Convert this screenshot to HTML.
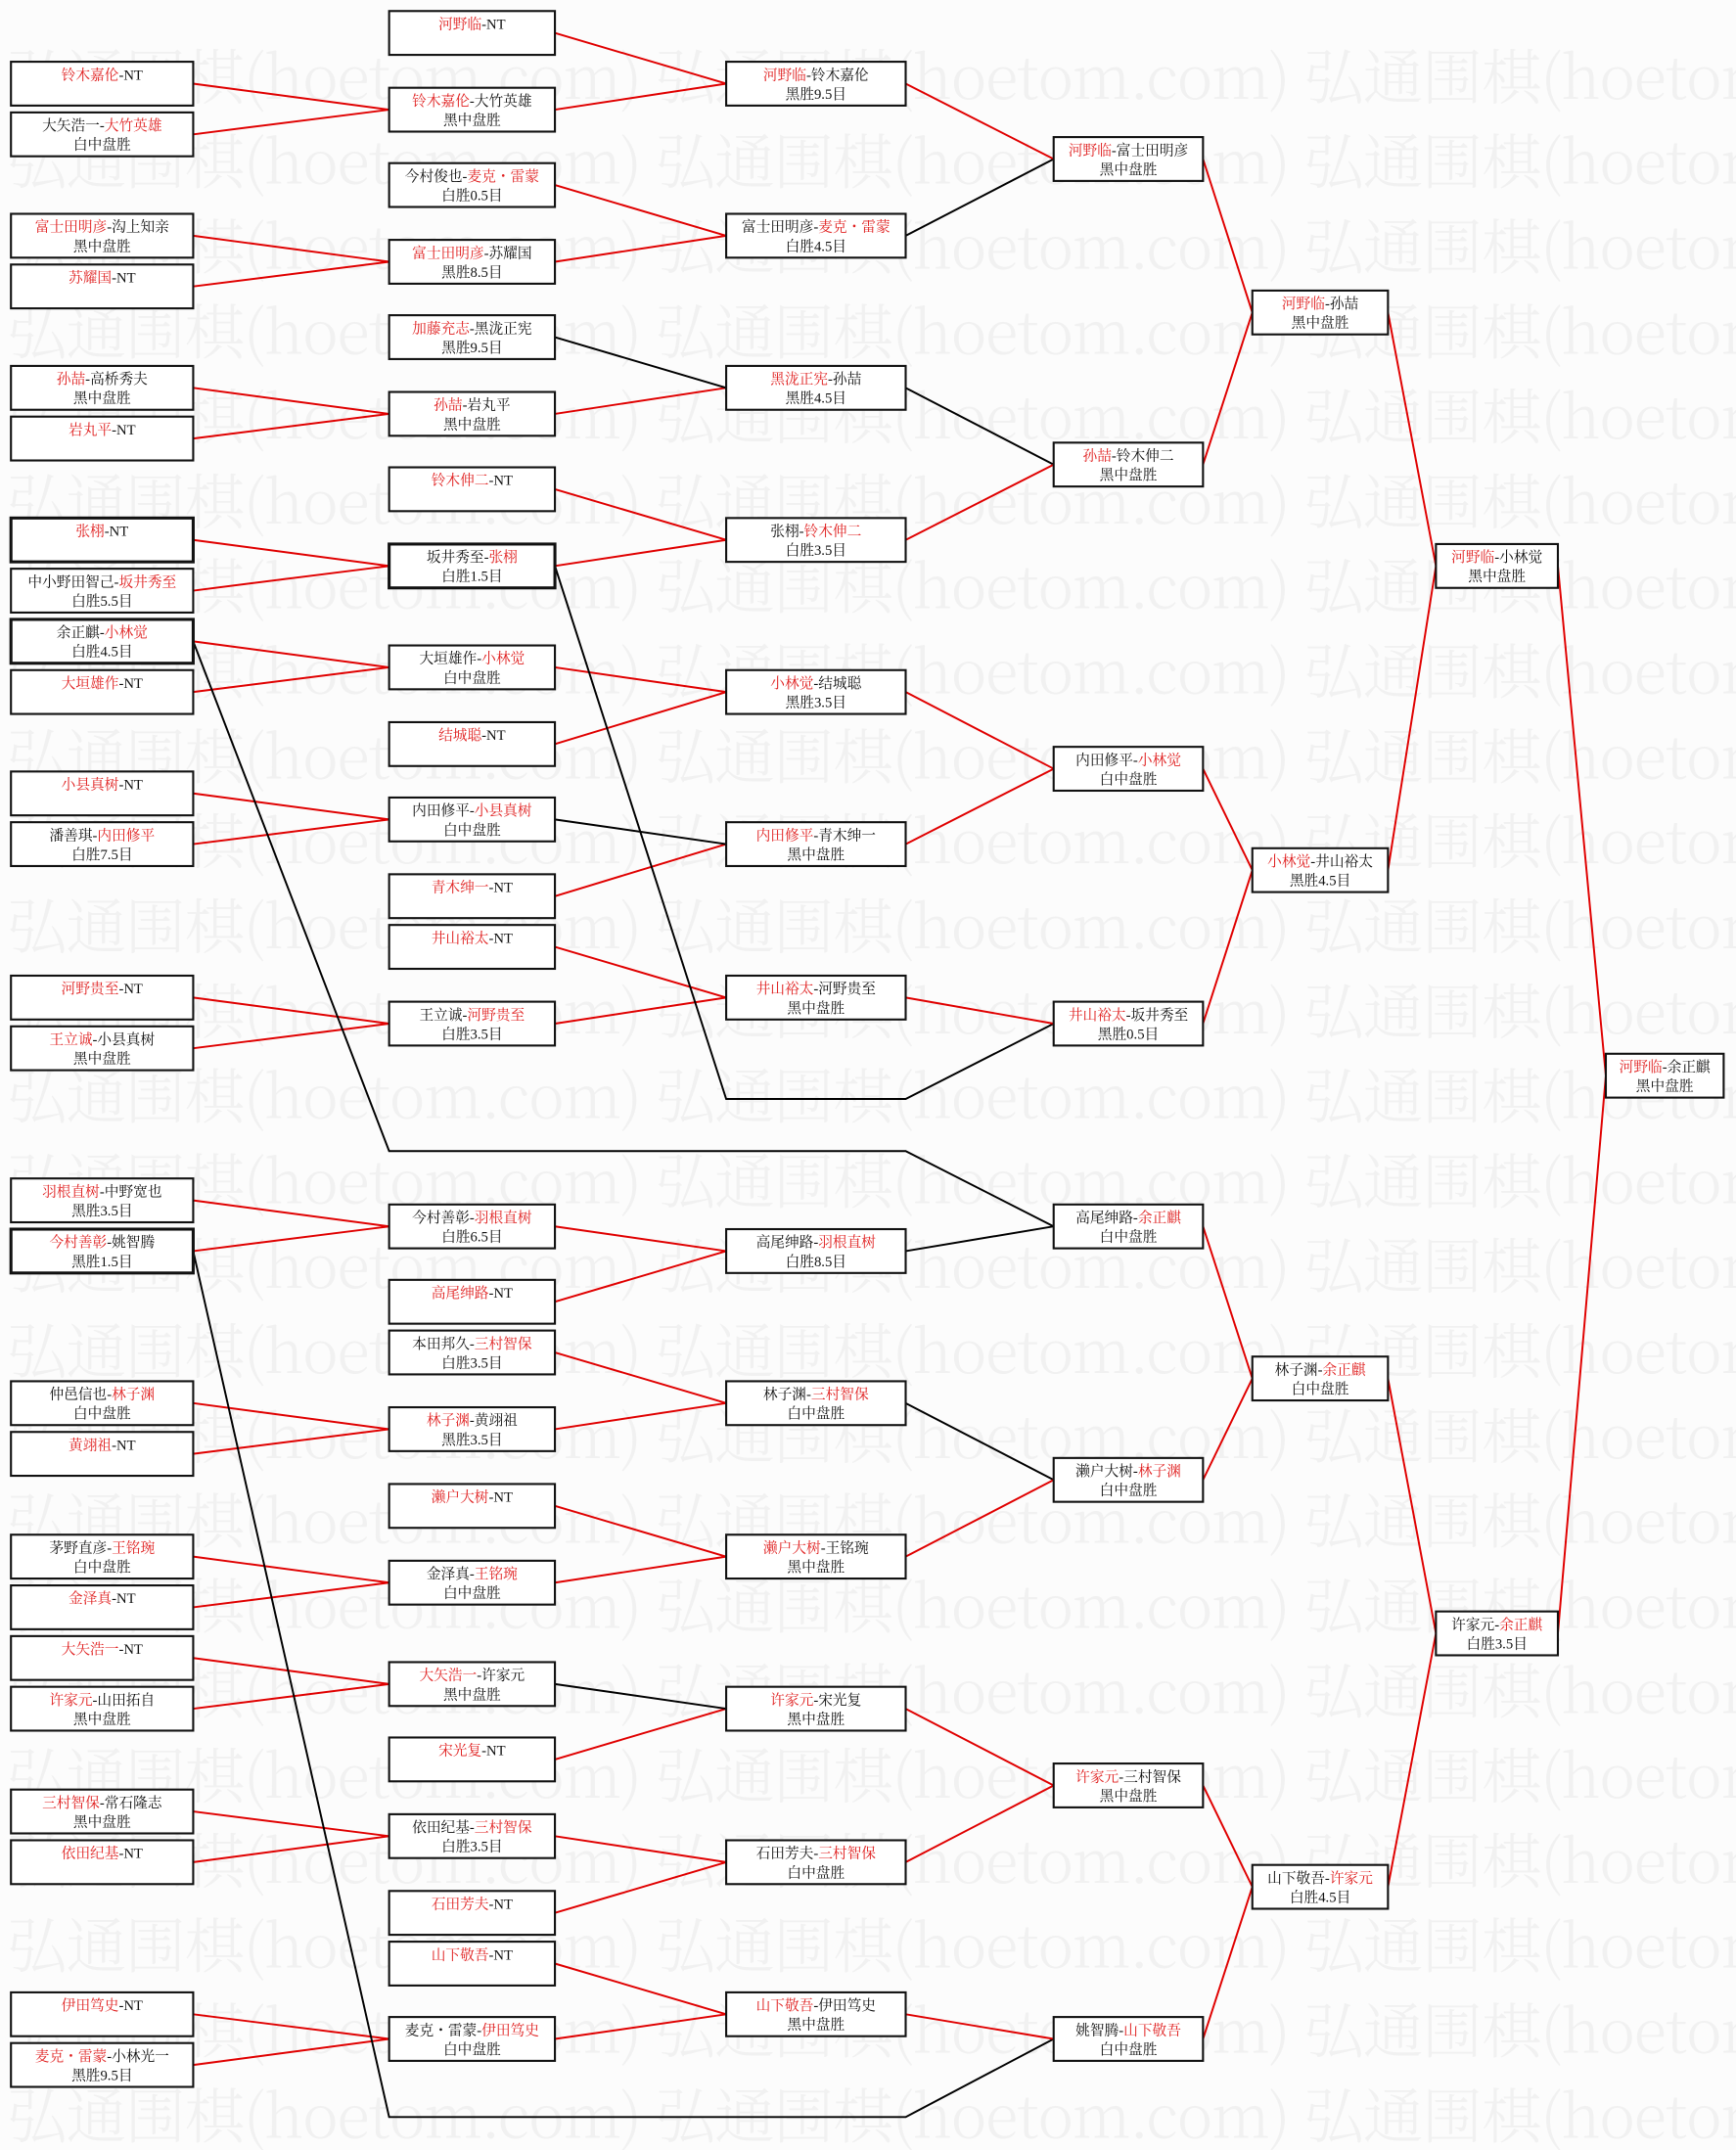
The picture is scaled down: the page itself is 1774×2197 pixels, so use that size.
<!DOCTYPE html>
<html><head><meta charset="utf-8">
<style>
html,body{margin:0;padding:0;background:#fcfcfc;}
svg{display:block;}
.b{fill:#fff;stroke:#111;stroke-width:1.5;}
.t{font-family:"Liberation Serif","Noto Serif CJK SC",serif;font-size:10.5px;fill:#111;text-anchor:middle;}
.r{fill:#e02020;}
.wm{font-family:"Noto Serif CJK SC","Liberation Serif",serif;font-size:44px;fill:#f1f1f1;font-weight:300;}
.lr{stroke:#e00000;stroke-width:1.4;fill:none;}
.lb{stroke:#000;stroke-width:1.4;fill:none;}
</style></head><body>
<svg width="1774" height="2197" viewBox="0 0 1267 1569" xmlns="http://www.w3.org/2000/svg">
<rect x="0" y="0" width="1267" height="1569" fill="#fcfcfc"/>
<g class="wm">
<text x="5" y="72" textLength="1410" lengthAdjust="spacing">弘通围棋(hoetom.com) 弘通围棋(hoetom.com) 弘通围棋(hoetom.com)</text>
<text x="5" y="134" textLength="1410" lengthAdjust="spacing">弘通围棋(hoetom.com) 弘通围棋(hoetom.com) 弘通围棋(hoetom.com)</text>
<text x="5" y="196" textLength="1410" lengthAdjust="spacing">弘通围棋(hoetom.com) 弘通围棋(hoetom.com) 弘通围棋(hoetom.com)</text>
<text x="5" y="258" textLength="1410" lengthAdjust="spacing">弘通围棋(hoetom.com) 弘通围棋(hoetom.com) 弘通围棋(hoetom.com)</text>
<text x="5" y="320" textLength="1410" lengthAdjust="spacing">弘通围棋(hoetom.com) 弘通围棋(hoetom.com) 弘通围棋(hoetom.com)</text>
<text x="5" y="382" textLength="1410" lengthAdjust="spacing">弘通围棋(hoetom.com) 弘通围棋(hoetom.com) 弘通围棋(hoetom.com)</text>
<text x="5" y="444" textLength="1410" lengthAdjust="spacing">弘通围棋(hoetom.com) 弘通围棋(hoetom.com) 弘通围棋(hoetom.com)</text>
<text x="5" y="506" textLength="1410" lengthAdjust="spacing">弘通围棋(hoetom.com) 弘通围棋(hoetom.com) 弘通围棋(hoetom.com)</text>
<text x="5" y="568" textLength="1410" lengthAdjust="spacing">弘通围棋(hoetom.com) 弘通围棋(hoetom.com) 弘通围棋(hoetom.com)</text>
<text x="5" y="630" textLength="1410" lengthAdjust="spacing">弘通围棋(hoetom.com) 弘通围棋(hoetom.com) 弘通围棋(hoetom.com)</text>
<text x="5" y="692" textLength="1410" lengthAdjust="spacing">弘通围棋(hoetom.com) 弘通围棋(hoetom.com) 弘通围棋(hoetom.com)</text>
<text x="5" y="754" textLength="1410" lengthAdjust="spacing">弘通围棋(hoetom.com) 弘通围棋(hoetom.com) 弘通围棋(hoetom.com)</text>
<text x="5" y="816" textLength="1410" lengthAdjust="spacing">弘通围棋(hoetom.com) 弘通围棋(hoetom.com) 弘通围棋(hoetom.com)</text>
<text x="5" y="878" textLength="1410" lengthAdjust="spacing">弘通围棋(hoetom.com) 弘通围棋(hoetom.com) 弘通围棋(hoetom.com)</text>
<text x="5" y="940" textLength="1410" lengthAdjust="spacing">弘通围棋(hoetom.com) 弘通围棋(hoetom.com) 弘通围棋(hoetom.com)</text>
<text x="5" y="1002" textLength="1410" lengthAdjust="spacing">弘通围棋(hoetom.com) 弘通围棋(hoetom.com) 弘通围棋(hoetom.com)</text>
<text x="5" y="1064" textLength="1410" lengthAdjust="spacing">弘通围棋(hoetom.com) 弘通围棋(hoetom.com) 弘通围棋(hoetom.com)</text>
<text x="5" y="1126" textLength="1410" lengthAdjust="spacing">弘通围棋(hoetom.com) 弘通围棋(hoetom.com) 弘通围棋(hoetom.com)</text>
<text x="5" y="1188" textLength="1410" lengthAdjust="spacing">弘通围棋(hoetom.com) 弘通围棋(hoetom.com) 弘通围棋(hoetom.com)</text>
<text x="5" y="1250" textLength="1410" lengthAdjust="spacing">弘通围棋(hoetom.com) 弘通围棋(hoetom.com) 弘通围棋(hoetom.com)</text>
<text x="5" y="1312" textLength="1410" lengthAdjust="spacing">弘通围棋(hoetom.com) 弘通围棋(hoetom.com) 弘通围棋(hoetom.com)</text>
<text x="5" y="1374" textLength="1410" lengthAdjust="spacing">弘通围棋(hoetom.com) 弘通围棋(hoetom.com) 弘通围棋(hoetom.com)</text>
<text x="5" y="1436" textLength="1410" lengthAdjust="spacing">弘通围棋(hoetom.com) 弘通围棋(hoetom.com) 弘通围棋(hoetom.com)</text>
<text x="5" y="1498" textLength="1410" lengthAdjust="spacing">弘通围棋(hoetom.com) 弘通围棋(hoetom.com) 弘通围棋(hoetom.com)</text>
<text x="5" y="1560" textLength="1410" lengthAdjust="spacing">弘通围棋(hoetom.com) 弘通围棋(hoetom.com) 弘通围棋(hoetom.com)</text>
</g>

<g class="lr">
<path d="M141 61L284 80M141 98L284 80"/>
<path d="M141 172L284 191M141 209L284 191"/>
<path d="M141 283L284 302M141 320L284 302"/>
<path d="M141 394L284 413M141 431L284 413"/>
<path d="M141 468L284 487M141 505L284 487"/>
<path d="M141 579L284 598M141 616L284 598"/>
<path d="M141 728L284 747M141 765L284 747"/>
<path d="M141 876L284 895M141 913L284 895"/>
<path d="M141 1024L284 1043M141 1061L284 1043"/>
<path d="M141 1136L284 1155M141 1173L284 1155"/>
<path d="M141 1210L284 1229M141 1247L284 1229"/>
<path d="M141 1322L284 1340M141 1359L284 1340"/>
<path d="M141 1470L284 1488M141 1507L284 1488"/>
</g>
<g class="lr">
<path d="M405 24L530 61M405 80L530 61"/>
<path d="M405 135L530 172M405 191L530 172"/>
<path d="M405 302L530 283"/>
<path d="M405 357L530 394M405 413L530 394"/>
<path d="M405 487L530 505M405 543L530 505"/>
<path d="M405 654L530 616"/>
<path d="M405 691L530 728M405 747L530 728"/>
<path d="M405 895L530 913M405 950L530 913"/>
<path d="M405 987L530 1024M405 1043L530 1024"/>
<path d="M405 1099L530 1136M405 1155L530 1136"/>
<path d="M405 1284L530 1247"/>
<path d="M405 1340L530 1359M405 1396L530 1359"/>
<path d="M405 1433L530 1470M405 1488L530 1470"/>
</g>
<g class="lb">
<path d="M405 246L530 283"/>
<path d="M405 598L530 616"/>
<path d="M405 1229L530 1247"/>
<path d="M405 413L530 802L661 802L769 747"/>
<path d="M141 468L284 840L661 840L769 895"/>
<path d="M141 913L284 1545L661 1545L769 1488"/>
<path d="M661 172L769 116"/>
<path d="M661 283L769 339"/>
<path d="M661 913L769 895"/>
<path d="M661 1024L769 1080"/>
</g>
<g class="lr">
<path d="M661 61L769 116"/>
<path d="M661 394L769 339"/>
<path d="M661 505L769 561M661 616L769 561"/>
<path d="M661 728L769 747"/>
<path d="M661 1136L769 1080"/>
<path d="M661 1247L769 1303M661 1359L769 1303"/>
<path d="M661 1470L769 1488"/>
<path d="M878 116L914 228M878 339L914 228"/>
<path d="M878 561L914 635M878 747L914 635"/>
<path d="M878 895L914 1006M878 1080L914 1006"/>
<path d="M878 1303L914 1377M878 1488L914 1377"/>
<path d="M1013 228L1048 413M1013 635L1048 413"/>
<path d="M1013 1006L1048 1192M1013 1377L1048 1192"/>
<path d="M1137 413L1172 785M1137 1192L1172 785"/>
</g>

<g>
<rect class="b" x="8" y="45" width="133" height="32"/><text class="t" x="74.5" y="58"><tspan class="r">铃木嘉伦</tspan>-NT</text>
<rect class="b" x="8" y="82" width="133" height="32"/><text class="t" x="74.5" y="95">大矢浩一-<tspan class="r">大竹英雄</tspan></text><text class="t" x="74.5" y="109">白中盘胜</text>
<rect class="b" x="8" y="156" width="133" height="32"/><text class="t" x="74.5" y="169"><tspan class="r">富士田明彦</tspan>-沟上知亲</text><text class="t" x="74.5" y="183">黑中盘胜</text>
<rect class="b" x="8" y="193" width="133" height="32"/><text class="t" x="74.5" y="206"><tspan class="r">苏耀国</tspan>-NT</text>
<rect class="b" x="8" y="267" width="133" height="32"/><text class="t" x="74.5" y="280"><tspan class="r">孙喆</tspan>-高桥秀夫</text><text class="t" x="74.5" y="294">黑中盘胜</text>
<rect class="b" x="8" y="304" width="133" height="32"/><text class="t" x="74.5" y="317"><tspan class="r">岩丸平</tspan>-NT</text>
<rect class="b" x="8" y="378" width="133" height="32" style="stroke-width:2.2"/><text class="t" x="74.5" y="391"><tspan class="r">张栩</tspan>-NT</text>
<rect class="b" x="8" y="415" width="133" height="32"/><text class="t" x="74.5" y="428">中小野田智己-<tspan class="r">坂井秀至</tspan></text><text class="t" x="74.5" y="442">白胜5.5目</text>
<rect class="b" x="8" y="452" width="133" height="32" style="stroke-width:2.2"/><text class="t" x="74.5" y="465">余正麒-<tspan class="r">小林觉</tspan></text><text class="t" x="74.5" y="479">白胜4.5目</text>
<rect class="b" x="8" y="489" width="133" height="32"/><text class="t" x="74.5" y="502"><tspan class="r">大垣雄作</tspan>-NT</text>
<rect class="b" x="8" y="563" width="133" height="32"/><text class="t" x="74.5" y="576"><tspan class="r">小县真树</tspan>-NT</text>
<rect class="b" x="8" y="600" width="133" height="32"/><text class="t" x="74.5" y="613">潘善琪-<tspan class="r">内田修平</tspan></text><text class="t" x="74.5" y="627">白胜7.5目</text>
<rect class="b" x="8" y="712" width="133" height="32"/><text class="t" x="74.5" y="725"><tspan class="r">河野贵至</tspan>-NT</text>
<rect class="b" x="8" y="749" width="133" height="32"/><text class="t" x="74.5" y="762"><tspan class="r">王立诚</tspan>-小县真树</text><text class="t" x="74.5" y="776">黑中盘胜</text>
<rect class="b" x="8" y="860" width="133" height="32"/><text class="t" x="74.5" y="873"><tspan class="r">羽根直树</tspan>-中野宽也</text><text class="t" x="74.5" y="887">黑胜3.5目</text>
<rect class="b" x="8" y="897" width="133" height="32" style="stroke-width:2.2"/><text class="t" x="74.5" y="910"><tspan class="r">今村善彰</tspan>-姚智腾</text><text class="t" x="74.5" y="924">黑胜1.5目</text>
<rect class="b" x="8" y="1008" width="133" height="32"/><text class="t" x="74.5" y="1021">仲邑信也-<tspan class="r">林子渊</tspan></text><text class="t" x="74.5" y="1035">白中盘胜</text>
<rect class="b" x="8" y="1045" width="133" height="32"/><text class="t" x="74.5" y="1058"><tspan class="r">黄翊祖</tspan>-NT</text>
<rect class="b" x="8" y="1120" width="133" height="32"/><text class="t" x="74.5" y="1133">茅野直彦-<tspan class="r">王铭琬</tspan></text><text class="t" x="74.5" y="1147">白中盘胜</text>
<rect class="b" x="8" y="1157" width="133" height="32"/><text class="t" x="74.5" y="1170"><tspan class="r">金泽真</tspan>-NT</text>
<rect class="b" x="8" y="1194" width="133" height="32"/><text class="t" x="74.5" y="1207"><tspan class="r">大矢浩一</tspan>-NT</text>
<rect class="b" x="8" y="1231" width="133" height="32"/><text class="t" x="74.5" y="1244"><tspan class="r">许家元</tspan>-山田拓自</text><text class="t" x="74.5" y="1258">黑中盘胜</text>
<rect class="b" x="8" y="1306" width="133" height="32"/><text class="t" x="74.5" y="1319"><tspan class="r">三村智保</tspan>-常石隆志</text><text class="t" x="74.5" y="1333">黑中盘胜</text>
<rect class="b" x="8" y="1343" width="133" height="32"/><text class="t" x="74.5" y="1356"><tspan class="r">依田纪基</tspan>-NT</text>
<rect class="b" x="8" y="1454" width="133" height="32"/><text class="t" x="74.5" y="1467"><tspan class="r">伊田笃史</tspan>-NT</text>
<rect class="b" x="8" y="1491" width="133" height="32"/><text class="t" x="74.5" y="1504"><tspan class="r">麦克・雷蒙</tspan>-小林光一</text><text class="t" x="74.5" y="1518">黑胜9.5目</text>
</g>

<g>
<rect class="b" x="284" y="8" width="121" height="32"/><text class="t" x="344.5" y="21"><tspan class="r">河野临</tspan>-NT</text>
<rect class="b" x="284" y="64" width="121" height="32"/><text class="t" x="344.5" y="77"><tspan class="r">铃木嘉伦</tspan>-大竹英雄</text><text class="t" x="344.5" y="91">黑中盘胜</text>
<rect class="b" x="284" y="119" width="121" height="32"/><text class="t" x="344.5" y="132">今村俊也-<tspan class="r">麦克・雷蒙</tspan></text><text class="t" x="344.5" y="146">白胜0.5目</text>
<rect class="b" x="284" y="175" width="121" height="32"/><text class="t" x="344.5" y="188"><tspan class="r">富士田明彦</tspan>-苏耀国</text><text class="t" x="344.5" y="202">黑胜8.5目</text>
<rect class="b" x="284" y="230" width="121" height="32"/><text class="t" x="344.5" y="243"><tspan class="r">加藤充志</tspan>-黑泷正宪</text><text class="t" x="344.5" y="257">黑胜9.5目</text>
<rect class="b" x="284" y="286" width="121" height="32"/><text class="t" x="344.5" y="299"><tspan class="r">孙喆</tspan>-岩丸平</text><text class="t" x="344.5" y="313">黑中盘胜</text>
<rect class="b" x="284" y="341" width="121" height="32"/><text class="t" x="344.5" y="354"><tspan class="r">铃木伸二</tspan>-NT</text>
<rect class="b" x="284" y="397" width="121" height="32" style="stroke-width:2.2"/><text class="t" x="344.5" y="410">坂井秀至-<tspan class="r">张栩</tspan></text><text class="t" x="344.5" y="424">白胜1.5目</text>
<rect class="b" x="284" y="471" width="121" height="32"/><text class="t" x="344.5" y="484">大垣雄作-<tspan class="r">小林觉</tspan></text><text class="t" x="344.5" y="498">白中盘胜</text>
<rect class="b" x="284" y="527" width="121" height="32"/><text class="t" x="344.5" y="540"><tspan class="r">结城聪</tspan>-NT</text>
<rect class="b" x="284" y="582" width="121" height="32"/><text class="t" x="344.5" y="595">内田修平-<tspan class="r">小县真树</tspan></text><text class="t" x="344.5" y="609">白中盘胜</text>
<rect class="b" x="284" y="638" width="121" height="32"/><text class="t" x="344.5" y="651"><tspan class="r">青木绅一</tspan>-NT</text>
<rect class="b" x="284" y="675" width="121" height="32"/><text class="t" x="344.5" y="688"><tspan class="r">井山裕太</tspan>-NT</text>
<rect class="b" x="284" y="731" width="121" height="32"/><text class="t" x="344.5" y="744">王立诚-<tspan class="r">河野贵至</tspan></text><text class="t" x="344.5" y="758">白胜3.5目</text>
<rect class="b" x="284" y="879" width="121" height="32"/><text class="t" x="344.5" y="892">今村善彰-<tspan class="r">羽根直树</tspan></text><text class="t" x="344.5" y="906">白胜6.5目</text>
<rect class="b" x="284" y="934" width="121" height="32"/><text class="t" x="344.5" y="947"><tspan class="r">高尾绅路</tspan>-NT</text>
<rect class="b" x="284" y="971" width="121" height="32"/><text class="t" x="344.5" y="984">本田邦久-<tspan class="r">三村智保</tspan></text><text class="t" x="344.5" y="998">白胜3.5目</text>
<rect class="b" x="284" y="1027" width="121" height="32"/><text class="t" x="344.5" y="1040"><tspan class="r">林子渊</tspan>-黄翊祖</text><text class="t" x="344.5" y="1054">黑胜3.5目</text>
<rect class="b" x="284" y="1083" width="121" height="32"/><text class="t" x="344.5" y="1096"><tspan class="r">濑户大树</tspan>-NT</text>
<rect class="b" x="284" y="1139" width="121" height="32"/><text class="t" x="344.5" y="1152">金泽真-<tspan class="r">王铭琬</tspan></text><text class="t" x="344.5" y="1166">白中盘胜</text>
<rect class="b" x="284" y="1213" width="121" height="32"/><text class="t" x="344.5" y="1226"><tspan class="r">大矢浩一</tspan>-许家元</text><text class="t" x="344.5" y="1240">黑中盘胜</text>
<rect class="b" x="284" y="1268" width="121" height="32"/><text class="t" x="344.5" y="1281"><tspan class="r">宋光复</tspan>-NT</text>
<rect class="b" x="284" y="1324" width="121" height="32"/><text class="t" x="344.5" y="1337">依田纪基-<tspan class="r">三村智保</tspan></text><text class="t" x="344.5" y="1351">白胜3.5目</text>
<rect class="b" x="284" y="1380" width="121" height="32"/><text class="t" x="344.5" y="1393"><tspan class="r">石田芳夫</tspan>-NT</text>
<rect class="b" x="284" y="1417" width="121" height="32"/><text class="t" x="344.5" y="1430"><tspan class="r">山下敬吾</tspan>-NT</text>
<rect class="b" x="284" y="1472" width="121" height="32"/><text class="t" x="344.5" y="1485">麦克・雷蒙-<tspan class="r">伊田笃史</tspan></text><text class="t" x="344.5" y="1499">白中盘胜</text>
</g>

<g>
<rect class="b" x="530" y="45" width="131" height="32"/><text class="t" x="595.5" y="58"><tspan class="r">河野临</tspan>-铃木嘉伦</text><text class="t" x="595.5" y="72">黑胜9.5目</text>
<rect class="b" x="530" y="156" width="131" height="32"/><text class="t" x="595.5" y="169">富士田明彦-<tspan class="r">麦克・雷蒙</tspan></text><text class="t" x="595.5" y="183">白胜4.5目</text>
<rect class="b" x="530" y="267" width="131" height="32"/><text class="t" x="595.5" y="280"><tspan class="r">黑泷正宪</tspan>-孙喆</text><text class="t" x="595.5" y="294">黑胜4.5目</text>
<rect class="b" x="530" y="378" width="131" height="32"/><text class="t" x="595.5" y="391">张栩-<tspan class="r">铃木伸二</tspan></text><text class="t" x="595.5" y="405">白胜3.5目</text>
<rect class="b" x="530" y="489" width="131" height="32"/><text class="t" x="595.5" y="502"><tspan class="r">小林觉</tspan>-结城聪</text><text class="t" x="595.5" y="516">黑胜3.5目</text>
<rect class="b" x="530" y="600" width="131" height="32"/><text class="t" x="595.5" y="613"><tspan class="r">内田修平</tspan>-青木绅一</text><text class="t" x="595.5" y="627">黑中盘胜</text>
<rect class="b" x="530" y="712" width="131" height="32"/><text class="t" x="595.5" y="725"><tspan class="r">井山裕太</tspan>-河野贵至</text><text class="t" x="595.5" y="739">黑中盘胜</text>
<rect class="b" x="530" y="897" width="131" height="32"/><text class="t" x="595.5" y="910">高尾绅路-<tspan class="r">羽根直树</tspan></text><text class="t" x="595.5" y="924">白胜8.5目</text>
<rect class="b" x="530" y="1008" width="131" height="32"/><text class="t" x="595.5" y="1021">林子渊-<tspan class="r">三村智保</tspan></text><text class="t" x="595.5" y="1035">白中盘胜</text>
<rect class="b" x="530" y="1120" width="131" height="32"/><text class="t" x="595.5" y="1133"><tspan class="r">濑户大树</tspan>-王铭琬</text><text class="t" x="595.5" y="1147">黑中盘胜</text>
<rect class="b" x="530" y="1231" width="131" height="32"/><text class="t" x="595.5" y="1244"><tspan class="r">许家元</tspan>-宋光复</text><text class="t" x="595.5" y="1258">黑中盘胜</text>
<rect class="b" x="530" y="1343" width="131" height="32"/><text class="t" x="595.5" y="1356">石田芳夫-<tspan class="r">三村智保</tspan></text><text class="t" x="595.5" y="1370">白中盘胜</text>
<rect class="b" x="530" y="1454" width="131" height="32"/><text class="t" x="595.5" y="1467"><tspan class="r">山下敬吾</tspan>-伊田笃史</text><text class="t" x="595.5" y="1481">黑中盘胜</text>
</g>

<g>
<rect class="b" x="769" y="100" width="109" height="32"/><text class="t" x="823.5" y="113"><tspan class="r">河野临</tspan>-富士田明彦</text><text class="t" x="823.5" y="127">黑中盘胜</text>
<rect class="b" x="769" y="323" width="109" height="32"/><text class="t" x="823.5" y="336"><tspan class="r">孙喆</tspan>-铃木伸二</text><text class="t" x="823.5" y="350">黑中盘胜</text>
<rect class="b" x="769" y="545" width="109" height="32"/><text class="t" x="823.5" y="558">内田修平-<tspan class="r">小林觉</tspan></text><text class="t" x="823.5" y="572">白中盘胜</text>
<rect class="b" x="769" y="731" width="109" height="32"/><text class="t" x="823.5" y="744"><tspan class="r">井山裕太</tspan>-坂井秀至</text><text class="t" x="823.5" y="758">黑胜0.5目</text>
<rect class="b" x="769" y="879" width="109" height="32"/><text class="t" x="823.5" y="892">高尾绅路-<tspan class="r">余正麒</tspan></text><text class="t" x="823.5" y="906">白中盘胜</text>
<rect class="b" x="769" y="1064" width="109" height="32"/><text class="t" x="823.5" y="1077">濑户大树-<tspan class="r">林子渊</tspan></text><text class="t" x="823.5" y="1091">白中盘胜</text>
<rect class="b" x="769" y="1287" width="109" height="32"/><text class="t" x="823.5" y="1300"><tspan class="r">许家元</tspan>-三村智保</text><text class="t" x="823.5" y="1314">黑中盘胜</text>
<rect class="b" x="769" y="1472" width="109" height="32"/><text class="t" x="823.5" y="1485">姚智腾-<tspan class="r">山下敬吾</tspan></text><text class="t" x="823.5" y="1499">白中盘胜</text>
</g>

<g>
<rect class="b" x="914" y="212" width="99" height="32"/><text class="t" x="963.5" y="225"><tspan class="r">河野临</tspan>-孙喆</text><text class="t" x="963.5" y="239">黑中盘胜</text>
<rect class="b" x="914" y="619" width="99" height="32"/><text class="t" x="963.5" y="632"><tspan class="r">小林觉</tspan>-井山裕太</text><text class="t" x="963.5" y="646">黑胜4.5目</text>
<rect class="b" x="914" y="990" width="99" height="32"/><text class="t" x="963.5" y="1003">林子渊-<tspan class="r">余正麒</tspan></text><text class="t" x="963.5" y="1017">白中盘胜</text>
<rect class="b" x="914" y="1361" width="99" height="32"/><text class="t" x="963.5" y="1374">山下敬吾-<tspan class="r">许家元</tspan></text><text class="t" x="963.5" y="1388">白胜4.5目</text>
</g>

<g>
<rect class="b" x="1048" y="397" width="89" height="32"/><text class="t" x="1092.5" y="410"><tspan class="r">河野临</tspan>-小林觉</text><text class="t" x="1092.5" y="424">黑中盘胜</text>
<rect class="b" x="1048" y="1176" width="89" height="32"/><text class="t" x="1092.5" y="1189">许家元-<tspan class="r">余正麒</tspan></text><text class="t" x="1092.5" y="1203">白胜3.5目</text>
</g>

<rect class="b" x="1172" y="769" width="86" height="32"/><text class="t" x="1215" y="782"><tspan class="r">河野临</tspan>-余正麒</text><text class="t" x="1215" y="796">黑中盘胜</text>
</svg>
</body></html>
